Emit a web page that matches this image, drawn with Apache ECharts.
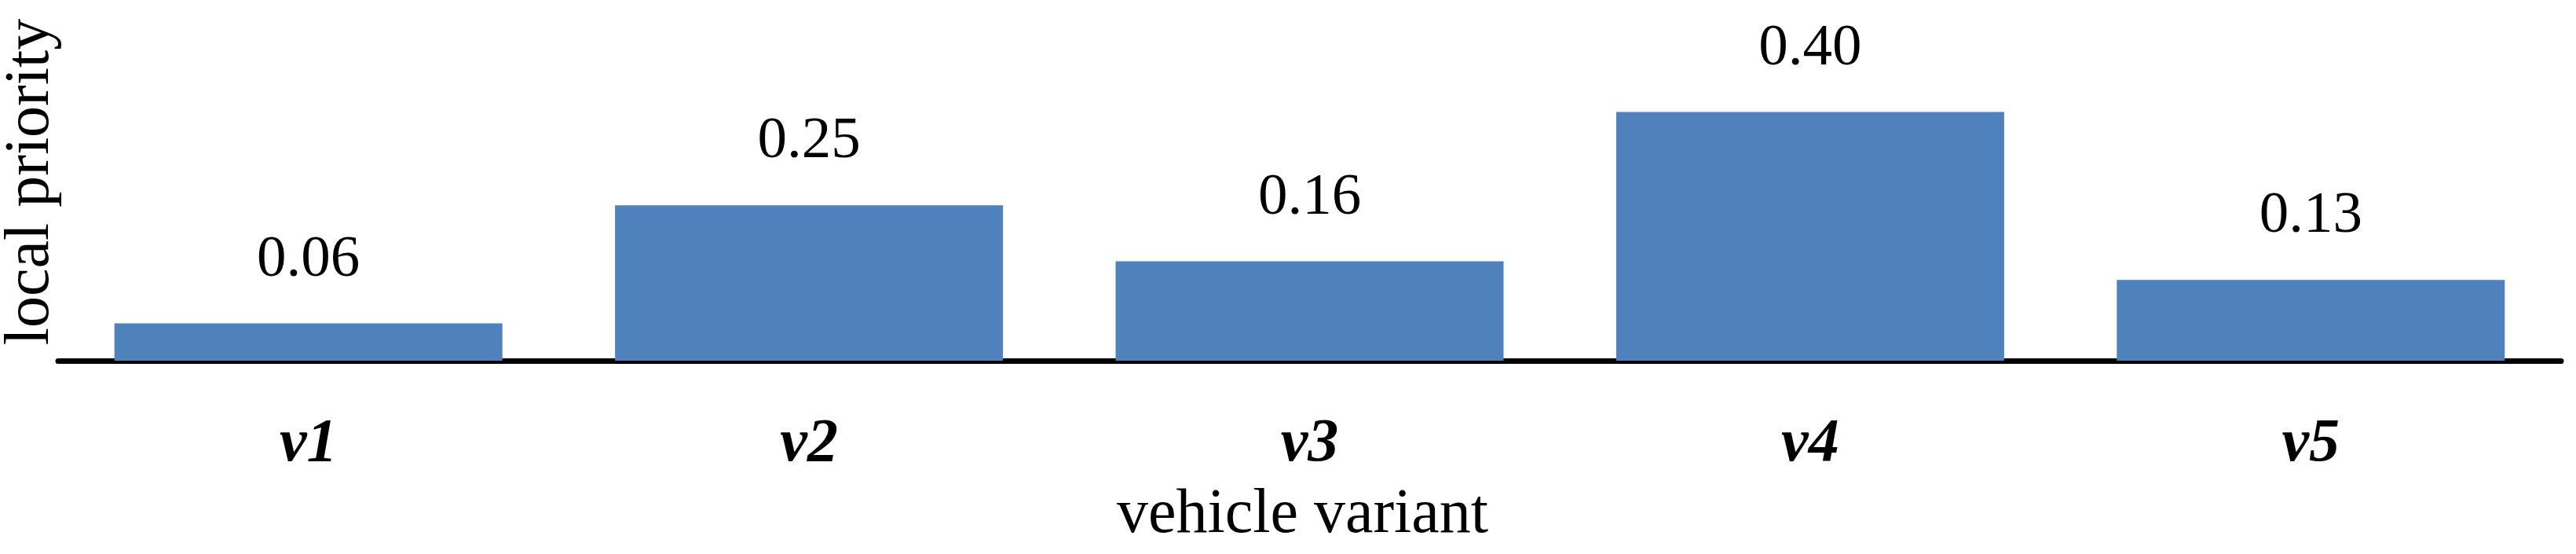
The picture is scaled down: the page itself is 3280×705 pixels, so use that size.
<!DOCTYPE html>
<html>
<head>
<meta charset="utf-8">
<script src="https://cdn.jsdelivr.net/npm/echarts@6/dist/echarts.min.js"></script>
<style>html,body{margin:0;padding:0;background:#fff}#c{width:3280px;height:705px}</style>
</head>
<body>
<div id="c"></div>
<script>
const categories = ['v1', 'v2', 'v3', 'v4', 'v5'];
const localPriority = [0.06, 0.25, 0.16, 0.40, 0.13];
const xAxisName = 'vehicle variant';
const yAxisName = 'local priority';

const chart = echarts.init(document.getElementById('c'), null, {renderer: 'canvas'});
const serif = 'Liberation Serif';
chart.setOption({
  animation: false,
  backgroundColor: '#ffffff',
  grid: {left: 74, right: 19, top: 103, bottom: 246, containLabel: false, outerBoundsMode: 'none'},
  xAxis: {
    type: 'category',
    data: categories,
    name: xAxisName,
    nameLocation: 'middle',
    nameGap: 157,
    nameTextStyle: {fontFamily: serif, fontSize: 80, color: '#000', padding: [0, 18, 0, 0]},
    axisLine: {show: true, lineStyle: {color: '#000', width: 7}},
    axisTick: {show: false},
    axisLabel: {fontFamily: serif, fontSize: 78, fontWeight: 'bold', fontStyle: 'italic', color: '#000', margin: 68},
    splitLine: {show: false}
  },
  yAxis: {
    type: 'value',
    min: 0,
    max: 0.45,
    name: yAxisName,
    nameLocation: 'middle',
    nameGap: -6,
    nameTextStyle: {fontFamily: serif, fontSize: 80, color: '#000', padding: [0, 0, 0, 99]},
    axisLine: {show: false},
    axisTick: {show: false},
    axisLabel: {show: false},
    splitLine: {show: false}
  },
  series: [{
    type: 'bar',
    data: localPriority,
    barCategoryGap: '22.5%',
    itemStyle: {color: '#4F81BD'},
    label: {
      show: true,
      position: 'top',
      distance: 43,
      fontFamily: serif,
      fontSize: 75,
      color: '#000',
      formatter: p => p.value.toFixed(2)
    }
  }]
});
</script>
</body>
</html>
